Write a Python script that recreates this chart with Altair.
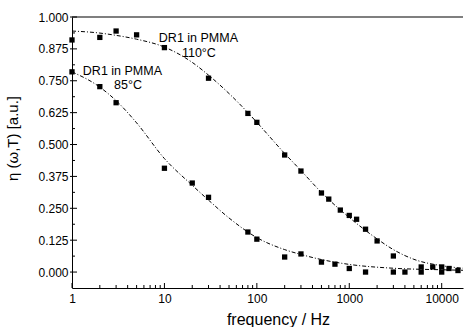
import altair as alt
import pandas as pd

# ---- data ----
f110 = [1, 2, 3, 5, 10, 30, 80, 100, 200, 300, 500, 600, 800, 1000, 1200, 1500, 2000, 3000,
        6000, 8000, 10000, 12000, 15000]
v110 = [0.91, 0.92, 0.945, 0.93, 0.88, 0.76, 0.622, 0.587, 0.459, 0.396, 0.31, 0.286, 0.243,
        0.222, 0.207, 0.168, 0.122, 0.063, 0.02, 0.02, 0.02, 0.014, 0.006]

f85 = [1, 2, 3, 10, 20, 30, 80, 100, 200, 300, 500, 700, 1000, 1500, 3000, 4000, 6000, 10000]
v85 = [0.785, 0.727, 0.664, 0.407, 0.349, 0.293, 0.157, 0.129, 0.059, 0.071, 0.039, 0.031,
       0.014, 0.0, 0.0, 0.0, 0.0, 0.0]

fit110_f = [1, 2, 3, 5, 10, 20, 30, 50, 80, 100, 200, 300, 500, 1000, 2000, 3000, 5000, 10000, 17000]
fit110_v = [0.945, 0.937, 0.928, 0.913, 0.882, 0.822, 0.772, 0.700, 0.625, 0.587, 0.465, 0.398,
            0.312, 0.214, 0.130, 0.088, 0.050, 0.025, 0.015]

fit85_f = [1, 2, 3, 5, 10, 20, 30, 50, 100, 200, 300, 500, 1000, 3000, 10000, 17000]
fit85_v = [0.785, 0.725, 0.672, 0.585, 0.445, 0.340, 0.282, 0.212, 0.135, 0.088, 0.069, 0.049,
           0.030, 0.015, 0.009, 0.007]

x_major = [1, 10, 100, 1000, 10000]
x_minor = [m * d for d in [1, 10, 100, 1000, 10000] for m in range(2, 10) if m * d <= 17000]
y_major = [0.0, 0.125, 0.25, 0.375, 0.5, 0.625, 0.75, 0.875, 1.0]
y_minor = [0.0625, 0.1875, 0.3125, 0.4375, 0.5625, 0.6875, 0.8125, 0.9375]

labels_txt = ["DR1 in PMMA", "110°C", "DR1 in PMMA", "85°C"]
labels_f = [8.7, 23.6, 1.31, 4.03]
labels_v = [0.902, 0.843, 0.773, 0.718]
labels_align = ["left", "center", "left", "center"]

W, H = 391, 271
FONT = "Liberation Sans"

pts = pd.DataFrame({"f": f110 + f85, "v": v110 + v85,
                    "s": ["110"] * len(f110) + ["85"] * len(f85)})
fits = pd.DataFrame({"f": fit110_f + fit85_f, "v": fit110_v + fit85_v,
                     "s": ["110"] * len(fit110_f) + ["85"] * len(fit85_f)})
labs = pd.DataFrame({"t": labels_txt, "f": labels_f, "v": labels_v, "a": labels_align})

xscale = alt.Scale(type="log", domain=[1, 17000], nice=False)
yscale = alt.Scale(domain=[-0.0625, 1.0], nice=False, zero=False)

xaxis = alt.Axis(values=x_major, format="d", ticks=False, grid=False,
                 title="frequency / Hz", titleFontSize=16, titleFont=FONT,
                 titleFontWeight="normal", titleColor="black",
                 titleX=206, titleY=36, titleBaseline="alphabetic", titleAlign="center",
                 labelFont=FONT, labelFontSize=12, labelColor="black", labelPadding=5,
                 domainColor="black", domainWidth=1, labelFlush=False)
yaxis = alt.Axis(values=y_major, format=".3f", ticks=False, grid=False,
                 title="η (ω,T) [a.u.]", titleFontSize=15, titleFont=FONT,
                 titleFontWeight="normal", titleColor="black",
                 titleX=-60, titleY=121, titleAlign="center", titleBaseline="middle",
                 labelFont=FONT, labelFontSize=12, labelColor="black", labelPadding=4,
                 domainColor="black", domainWidth=1)


def X():
    return alt.X("f:Q", scale=xscale, axis=xaxis)


def Y():
    return alt.Y("v:Q", scale=yscale, axis=yaxis)


lines = alt.Chart(fits).mark_line(color="black", strokeWidth=1, strokeDash=[4, 2, 1, 2],
                                  interpolate="monotone").encode(
    x=X(), y=Y(), detail="s:N")

points = alt.Chart(pts).mark_point(shape="square", filled=True, color="black",
                                   size=28, opacity=1).encode(x=X(), y=Y())

text_left = alt.Chart(labs[labs["a"] == "left"]).mark_text(
    font=FONT, fontSize=12.5, color="black", align="left", baseline="alphabetic").encode(
    x=X(), y=Y(), text="t:N")
text_center = alt.Chart(labs[labs["a"] == "center"]).mark_text(
    font=FONT, fontSize=12.5, color="black", align="center", baseline="alphabetic").encode(
    x=X(), y=Y(), text="t:N")

xt_major = alt.Chart(pd.DataFrame({"f": x_major})).mark_rule(color="black", strokeWidth=1).encode(
    x=X(), y=alt.value(H), y2=alt.value(H - 5))
xt_minor = alt.Chart(pd.DataFrame({"f": x_minor})).mark_rule(color="black", strokeWidth=1).encode(
    x=X(), y=alt.value(H), y2=alt.value(H - 3))
yt_major = alt.Chart(pd.DataFrame({"v": y_major})).mark_rule(color="black", strokeWidth=1).encode(
    y=Y(), x=alt.value(-2), x2=alt.value(5))
yt_minor = alt.Chart(pd.DataFrame({"v": y_minor})).mark_rule(color="black", strokeWidth=1).encode(
    y=Y(), x=alt.value(0), x2=alt.value(3))
top_line = alt.Chart(pd.DataFrame({"v": [1.0]})).mark_rule(color="black", strokeWidth=1.2).encode(
    y=Y(), x=alt.value(0), x2=alt.value(W))

chart = alt.layer(
    lines, points, text_left, text_center, xt_major, xt_minor, yt_major, yt_minor, top_line
).properties(
    width=W, height=H,
    autosize=alt.AutoSizeParams(type="none"),
    padding={"left": 72, "top": 17, "right": 3, "bottom": 39},
    background="white",
).configure_view(stroke=None)

chart.save("out.html", embed_options={"renderer": "svg", "actions": False})
